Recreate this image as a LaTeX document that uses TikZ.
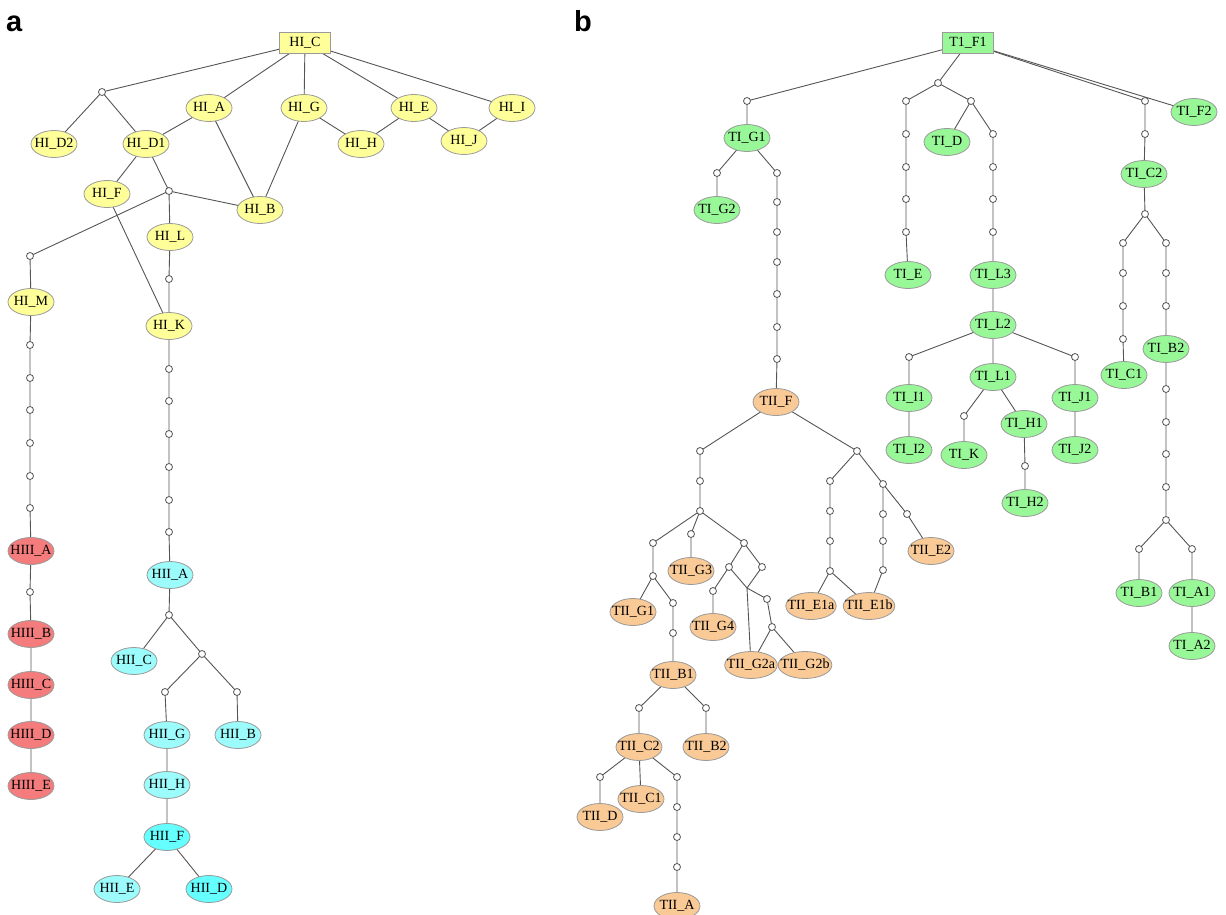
\documentclass[tikz,border=0pt]{standalone}
\usepackage{fontspec}
\setmainfont{Liberation Serif}
\newfontfamily\panelfont{Liberation Sans}
\usepackage{tikz}
\usetikzlibrary{shapes.geometric,backgrounds}
\definecolor{edgegray}{HTML}{555555}
\definecolor{rimgray}{HTML}{9A9A9A}
\definecolor{hyellow}{HTML}{FFFF99}
\definecolor{hcyan}{HTML}{9CFBFB}
\definecolor{hcyandeep}{HTML}{66FFFF}
\definecolor{hred}{HTML}{F47C7C}
\definecolor{tgreen}{HTML}{98F898}
\definecolor{torange}{HTML}{F9C996}
\tikzset{
  link/.style={draw=edgegray, line width=0.9pt},
  leaf/.style={ellipse, draw=rimgray, line width=0.8pt, inner xsep=-5.5pt, inner ysep=0pt,
    minimum width=46pt, minimum height=27pt, font=\fontsize{14}{16}\selectfont},
  root/.style={rectangle, draw=rimgray, line width=0.8pt, inner sep=0pt,
    minimum width=51pt, minimum height=21pt, font=\fontsize{14}{16}\selectfont},
  hnode/.style={leaf, fill=hyellow},
  cnode/.style={leaf, fill=hcyan},
  cdeep/.style={leaf, fill=hcyandeep},
  rnode/.style={leaf, fill=hred},
  gnode/.style={leaf, fill=tgreen},
  onode/.style={leaf, fill=torange},
  dot/.style={circle, draw=edgegray, fill=white, line width=0.8pt, inner sep=0pt, minimum size=7pt},
  panel/.style={anchor=base west, inner sep=0pt, font=\panelfont\bfseries\fontsize{29}{29}\selectfont}
}

\begin{document}
\begin{tikzpicture}[x=1pt,y=-1pt]
\useasboundingbox (0,0) rectangle (1226,915);
\node[panel] (pa) at (6,32) {a};
\node[panel] (pb) at (574,32) {b};

% a
\node[root, fill=hyellow] (hiC) at (305,43) {HI\_C};
\node[dot] (a1) at (102,92) {};
\node[hnode] (hiA) at (209,108) {HI\_A};
\node[hnode] (hiG) at (304,108) {HI\_G};
\node[hnode] (hiE) at (414,108) {HI\_E};
\node[hnode] (hiI) at (512,108) {HI\_I};
\node[hnode] (hiD2) at (54,144) {HI\_D2};
\node[hnode] (hiD1) at (146,144) {HI\_D1};
\node[hnode] (hiH) at (361,144) {HI\_H};
\node[hnode] (hiJ) at (464,141) {HI\_J};
\node[hnode] (hiF) at (107,194) {HI\_F};
\node[dot] (a2) at (169,191) {};
\node[hnode] (hiB) at (260,210) {HI\_B};
\node[hnode] (hiL) at (170,237) {HI\_L};
\node[dot] (a3) at (30,256) {};
\node[dot] (a4) at (169,279) {};
\node[hnode] (hiM) at (31,302) {HI\_M};
\node[hnode] (hiK) at (169,326) {HI\_K};

\node[dot] (m1) at (30,345) {};
\node[dot] (m2) at (30,378) {};
\node[dot] (m3) at (30,410) {};
\node[dot] (m4) at (30,443) {};
\node[dot] (m5) at (30,476) {};
\node[dot] (m6) at (30,508) {};
\node[rnode] (hiiiA) at (31,551) {HIII\_A};
\node[dot] (m7) at (30,592) {};
\node[rnode] (hiiiB) at (31,634) {HIII\_B};
\node[rnode] (hiiiC) at (31,685) {HIII\_C};
\node[rnode] (hiiiD) at (31,735) {HIII\_D};
\node[rnode] (hiiiE) at (31,786) {HIII\_E};

\node[dot] (k1) at (169,369) {};
\node[dot] (k2) at (169,401) {};
\node[dot] (k3) at (169,434) {};
\node[dot] (k4) at (169,467) {};
\node[dot] (k5) at (169,500) {};
\node[dot] (k6) at (169,532) {};
\node[cnode] (hiiA) at (170,575) {HII\_A};
\node[dot] (k7) at (169,615) {};
\node[cnode] (hiiC) at (134,661) {HII\_C};
\node[dot] (k8) at (202,654) {};
\node[dot] (k9) at (165,692) {};
\node[dot] (k10) at (237,692) {};
\node[cnode] (hiiG) at (167,735) {HII\_G};
\node[cnode] (hiiB) at (238,735) {HII\_B};
\node[cnode] (hiiH) at (167,785) {HII\_H};
\node[cdeep] (hiiF) at (167,837) {HII\_F};
\node[cnode] (hiiE) at (117,889) {HII\_E};
\node[cdeep] (hiiD) at (209,889) {HII\_D};

\begin{scope}[on background layer]
\draw[link] (hiC.center) -- (a1.center) -- (hiD2.center);
\draw[link] (a1.center) -- (hiD1.center);
\draw[link] (hiC.center) -- (hiA.center) -- (hiD1.center);
\draw[link] (hiA.center) -- (hiB.center) -- (hiG.center) -- (hiC.center);
\draw[link] (hiG.center) -- (hiH.center) -- (hiE.center) -- (hiC.center);
\draw[link] (hiE.center) -- (hiJ.center) -- (hiI.center) -- (hiC.center);
\draw[link] (hiD1.center) -- (hiF.center) -- (hiK.center);
\draw[link] (hiD1.center) -- (a2.center) -- (hiB.center);
\draw[link] (a2.center) -- (a3.center) -- (hiM.center) -- (m1.center) -- (m2.center) -- (m3.center) -- (m4.center) -- (m5.center) -- (m6.center) -- (hiiiA.center) -- (m7.center) -- (hiiiB.center) -- (hiiiC.center) -- (hiiiD.center) -- (hiiiE.center);
\draw[link] (a2.center) -- (hiL.center) -- (a4.center) -- (hiK.center) -- (k1.center) -- (k2.center) -- (k3.center) -- (k4.center) -- (k5.center) -- (k6.center) -- (hiiA.center) -- (k7.center) -- (hiiC.center);
\draw[link] (k7.center) -- (k8.center) -- (k9.center) -- (hiiG.center) -- (hiiH.center) -- (hiiF.center) -- (hiiE.center);
\draw[link] (k8.center) -- (k10.center) -- (hiiB.center);
\draw[link] (hiiF.center) -- (hiiD.center);
\end{scope}

% b
\node[root, fill=tgreen] (tF1) at (968,43) {T1\_F1};
\node[dot] (b1) at (747,101) {};
\node[gnode] (tG1) at (747,138) {TI\_G1};
\node[dot] (b2) at (717,173) {};
\node[gnode] (tG2) at (717,210) {TI\_G2};
\node[dot] (f1) at (777,173) {};
\node[dot] (f2) at (777,202) {};
\node[dot] (f3) at (777,232) {};
\node[dot] (f4) at (777,262) {};
\node[dot] (f5) at (777,294) {};
\node[dot] (f6) at (777,327) {};
\node[dot] (f7) at (777,359) {};
\node[onode] (tiiF) at (776,402) {TII\_F};

\node[dot] (b3) at (938,83) {};
\node[dot] (e1) at (906,101) {};
\node[dot] (e2) at (906,134) {};
\node[dot] (e3) at (906,167) {};
\node[dot] (e4) at (906,199) {};
\node[dot] (e5) at (906,232) {};
\node[gnode] (tE) at (908,275) {TI\_E};
\node[dot] (b4) at (971,101) {};
\node[gnode] (tD) at (947,142) {TI\_D};
\node[dot] (l1) at (993,134) {};
\node[dot] (l2) at (993,167) {};
\node[dot] (l3) at (993,199) {};
\node[dot] (l4) at (993,232) {};
\node[gnode] (tL3) at (993,275) {TI\_L3};
\node[gnode] (tL2) at (993,325) {TI\_L2};
\node[dot] (b5) at (909,357) {};
\node[gnode] (tI1) at (909,398) {TI\_I1};
\node[gnode] (tI2) at (909,450) {TI\_I2};
\node[gnode] (tL1) at (993,377) {TI\_L1};
\node[dot] (b6) at (1075,357) {};
\node[gnode] (tJ1) at (1075,398) {TI\_J1};
\node[gnode] (tJ2) at (1075,450) {TI\_J2};
\node[dot] (b7) at (964,416) {};
\node[gnode] (tK) at (964,455) {TI\_K};
\node[gnode] (tH1) at (1024,424) {TI\_H1};
\node[dot] (b8) at (1025,466) {};
\node[gnode] (tH2) at (1025,503) {TI\_H2};

\node[dot] (c1) at (1145,101) {};
\node[dot] (c2) at (1145,134) {};
\node[gnode] (tC2) at (1144,174) {TI\_C2};
\node[dot] (c3) at (1145,214) {};
\node[dot] (c4) at (1123,243) {};
\node[dot] (c5) at (1123,273) {};
\node[dot] (c6) at (1123,306) {};
\node[dot] (c7) at (1123,339) {};
\node[gnode] (tC1) at (1124,375) {TI\_C1};
\node[dot] (d1) at (1166,243) {};
\node[dot] (d2) at (1166,273) {};
\node[dot] (d3) at (1166,306) {};
\node[gnode] (tB2) at (1166,349) {TI\_B2};
\node[dot] (d4) at (1166,389) {};
\node[dot] (d5) at (1166,422) {};
\node[dot] (d6) at (1166,454) {};
\node[dot] (d7) at (1166,487) {};
\node[dot] (d8) at (1166,520) {};
\node[dot] (d9) at (1139,549) {};
\node[dot] (d10) at (1192,549) {};
\node[gnode] (tB1) at (1139,593) {TI\_B1};
\node[gnode] (tA1) at (1192,593) {TI\_A1};
\node[gnode] (tA2) at (1192,646) {TI\_A2};
\node[gnode] (tF2) at (1194,112) {TI\_F2};

\node[dot] (p1) at (700,451) {};
\node[dot] (p2) at (700,481) {};
\node[dot] (p3) at (700,511) {};
\node[dot] (p4) at (653,543) {};
\node[dot] (p5) at (653,576) {};
\node[onode] (tiiG1) at (633,612) {TII\_G1};
\node[dot] (p6) at (673,603) {};
\node[dot] (p7) at (673,633) {};
\node[onode] (tiiB1) at (673,675) {TII\_B1};
\node[dot] (p8) at (691,534) {};
\node[onode] (tiiG3) at (691,571) {TII\_G3};
\node[dot] (p9) at (744,543) {};
\node[dot] (p10) at (729,567) {};
\node[dot] (p11) at (762,567) {};
\node[dot] (p12) at (713,591) {};
\node[onode] (tiiG4) at (713,627) {TII\_G4};
\coordinate (px) at (747,588);
\node[dot] (p14) at (767,599) {};
\node[dot] (p15) at (772,627) {};
\node[onode] (tiiG2a) at (751,665) {TII\_G2a};
\node[onode] (tiiG2b) at (805,665) {TII\_G2b};

\node[dot] (q1) at (857,451) {};
\node[dot] (q2) at (830,481) {};
\node[dot] (q3) at (830,511) {};
\node[dot] (q4) at (830,541) {};
\node[dot] (q5) at (830,571) {};
\node[onode] (tiiE1a) at (811,606) {TII\_E1a};
\node[onode] (tiiE1b) at (869,606) {TII\_E1b};
\node[dot] (q6) at (883,484) {};
\node[dot] (q7) at (883,514) {};
\node[dot] (q8) at (883,541) {};
\node[dot] (q9) at (883,570) {};
\node[dot] (q10) at (907,514) {};
\node[onode] (tiiE2) at (931,551) {TII\_E2};

\node[dot] (s1) at (639,708) {};
\node[dot] (s2) at (706,708) {};
\node[onode] (tiiC2) at (639,747) {TII\_C2};
\node[onode] (tiiB2) at (706,747) {TII\_B2};
\node[dot] (s3) at (600,777) {};
\node[dot] (s4) at (677,777) {};
\node[onode] (tiiC1) at (641,799) {TII\_C1};
\node[onode] (tiiD) at (600,817) {TII\_D};
\node[dot] (s5) at (677,807) {};
\node[dot] (s6) at (677,837) {};
\node[dot] (s7) at (677,867) {};
\node[onode] (tiiA) at (677,906) {TII\_A};

\begin{scope}[on background layer]
\draw[link] (tF1.center) -- (b1.center) -- (tG1.center) -- (b2.center) -- (tG2.center);
\draw[link] (tG1.center) -- (f1.center) -- (f2.center) -- (f3.center) -- (f4.center) -- (f5.center) -- (f6.center) -- (f7.center) -- (tiiF.center);
\draw[link] (tF1.center) -- (b3.center) -- (e1.center) -- (e2.center) -- (e3.center) -- (e4.center) -- (e5.center) -- (tE.center);
\draw[link] (b3.center) -- (b4.center) -- (tD.center);
\draw[link] (b4.center) -- (l1.center) -- (l2.center) -- (l3.center) -- (l4.center) -- (tL3.center) -- (tL2.center) -- (tL1.center);
\draw[link] (tL2.center) -- (b5.center) -- (tI1.center) -- (tI2.center);
\draw[link] (tL2.center) -- (b6.center) -- (tJ1.center) -- (tJ2.center);
\draw[link] (tL1.center) -- (b7.center) -- (tK.center);
\draw[link] (tL1.center) -- (tH1.center) -- (b8.center) -- (tH2.center);
\draw[link] (tF1.center) -- (c1.center) -- (c2.center) -- (tC2.center) -- (c3.center) -- (c4.center) -- (c5.center) -- (c6.center) -- (c7.center) -- (tC1.center);
\draw[link] (c3.center) -- (d1.center) -- (d2.center) -- (d3.center) -- (tB2.center) -- (d4.center) -- (d5.center) -- (d6.center) -- (d7.center) -- (d8.center) -- (d9.center) -- (tB1.center);
\draw[link] (d8.center) -- (d10.center) -- (tA1.center) -- (tA2.center);
\draw[link] (tF1.center) -- (tF2.center);

\draw[link] (tiiF.center) -- (p1.center) -- (p2.center) -- (p3.center) -- (p4.center) -- (p5.center) -- (tiiG1.center);
\draw[link] (p5.center) -- (p6.center) -- (p7.center) -- (tiiB1.center);
\draw[link] (p3.center) -- (p8.center) -- (tiiG3.center);
\draw[link] (p3.center) -- (p9.center) -- (p10.center) -- (p12.center) -- (tiiG4.center);
\draw[link] (p9.center) -- (p11.center) -- (px) -- (tiiG2a.center);
\draw[link] (p10.center) -- (px) -- (p14.center) -- (p15.center) -- (tiiG2a.center);
\draw[link] (p15.center) -- (tiiG2b.center);
\draw[link] (tiiF.center) -- (q1.center) -- (q2.center) -- (q3.center) -- (q4.center) -- (q5.center) -- (tiiE1a.center);
\draw[link] (q5.center) -- (tiiE1b.center);
\draw[link] (q1.center) -- (q6.center) -- (q7.center) -- (q8.center) -- (q9.center) -- (tiiE1b.center);
\draw[link] (q6.center) -- (q10.center) -- (tiiE2.center);
\draw[link] (tiiB1.center) -- (s1.center) -- (tiiC2.center) -- (s3.center) -- (tiiD.center);
\draw[link] (tiiB1.center) -- (s2.center) -- (tiiB2.center);
\draw[link] (tiiC2.center) -- (tiiC1.center);
\draw[link] (tiiC2.center) -- (s4.center) -- (s5.center) -- (s6.center) -- (s7.center) -- (tiiA.center);
\end{scope}
\end{tikzpicture}
\end{document}
